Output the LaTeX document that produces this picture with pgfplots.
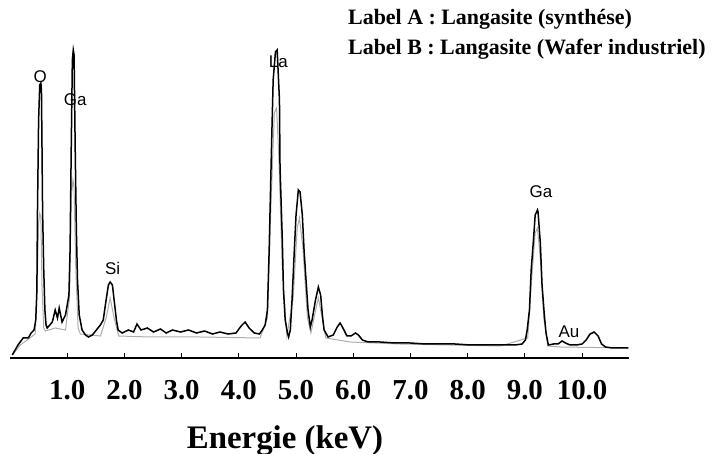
\documentclass[border=0pt]{standalone}
\usepackage{fontspec}
\setmainfont{Liberation Serif}
\newfontfamily\arial{Liberation Sans}
\usepackage{pgfplots}
\pgfplotsset{compat=1.18}
\begin{document}
\begin{tikzpicture}
\useasboundingbox (0,0) rectangle (714bp,454bp);
\begin{axis}[
  at={(10bp,96bp)}, anchor=south west,
  scale only axis, width=619bp, height=358bp,
  xmin=0, xmax=10.82, ymin=0, ymax=358,
  axis x line*=bottom, axis y line=none,
  ytick=\empty,
  xtick={1,2,3,4,5,6,7,8,9,10},
  xticklabels={1.0,2.0,3.0,4.0,5.0,6.0,7.0,8.0,9.0,10.0},
  tick align=inside, major tick length=5bp,
  xtick style={line width=0.8bp, black},
  x axis line style={line width=2.5bp, black},
  xticklabel style={font=\fontsize{29}{29}\selectfont\bfseries, inner sep=0pt, yshift=-22bp},
  clip=false,
]
% Label B (grey)
\addplot[gray!65, line width=1bp] coordinates {
(0.04,3)(0.18,13)(0.35,20)(0.44,24)(0.47,60)(0.50,135)(0.52,145)(0.54,140)(0.56,70)(0.59,30)
(0.62,27)(0.79,30)(0.97,28)(1.04,60)(1.07,160)(1.10,178)(1.12,170)(1.15,90)(1.19,30)(1.23,24)
(1.58,22)(1.68,40)(1.75,60)(1.82,40)(1.90,22)(2.45,21)(3.33,21)(4.37,20)(4.50,40)(4.56,150)
(4.62,245)(4.66,250)(4.70,200)(4.76,90)(4.84,22)(4.95,60)(5.02,130)(5.06,140)(5.12,110)(5.20,40)
(5.26,25)(5.35,50)(5.39,60)(5.44,45)(5.52,20)(5.95,16)(6.82,14)(7.70,13)(8.57,12)(9.05,20)
(9.12,80)(9.18,125)(9.22,130)(9.27,100)(9.33,40)(9.40,12)(9.62,11)(10.81,10)
};
% Label A (black)
\addplot[black, line width=1.5bp] coordinates {
(0.04,3)(0.09,8)(0.14,13)(0.23,20)(0.32,20)(0.37,25)(0.42,28)
(0.45,38)(0.47,68)(0.48,145)(0.50,238)(0.52,273)(0.54,275)(0.55,268)(0.57,145)(0.59,88)(0.61,48)(0.63,33)(0.65,30)
(0.74,36)(0.79,48)(0.83,40)(0.86,50)(0.91,36)(0.97,43)(1.00,53)(1.03,63)
(1.05,108)(1.07,208)(1.09,298)(1.106,308)(1.12,303)(1.14,208)(1.16,128)(1.18,78)(1.21,43)(1.26,28)
(1.32,23)(1.37,21)(1.44,23)(1.51,28)(1.58,33)
(1.63,38)(1.68,58)(1.72,73)(1.75,76)(1.79,73)(1.82,58)(1.86,38)(1.89,28)(1.96,25)
(2.07,28)(2.16,26)(2.22,34)(2.29,28)(2.40,30)(2.51,26)(2.63,29)(2.73,25)(2.84,28)(2.98,26)
(3.12,28)(3.26,25)(3.40,27)(3.54,24)(3.67,26)(3.81,24)(3.95,25)(4.04,32)(4.11,36)(4.18,30)
(4.27,25)(4.36,24)(4.41,28)
(4.46,33)(4.50,48)(4.53,108)(4.57,208)(4.60,278)(4.64,306)(4.67,308)(4.71,258)(4.72,191)(4.76,118)
(4.78,68)(4.81,38)(4.85,25)(4.87,21)(4.90,28)
(4.93,58)(4.97,108)(5.00,143)(5.04,168)(5.07,166)(5.11,143)(5.14,108)(5.18,73)(5.21,48)(5.25,31)
(5.28,38)(5.34,58)(5.39,71)(5.43,63)(5.46,43)(5.49,28)(5.56,21)(5.65,23)(5.72,31)(5.77,35)
(5.82,30)(5.89,22)(5.96,22)(6.04,25)(6.09,23)(6.16,18)(6.26,16)(6.47,16)(6.73,15)(7.00,15)
(7.26,14)(7.52,14)(7.78,14)(8.05,13)(8.31,13)(8.57,13)(8.83,13)(8.95,14)
(9.01,18)(9.04,28)(9.08,48)(9.11,88)(9.15,118)(9.18,143)(9.22,148)(9.23,146)(9.27,115)(9.30,73)
(9.34,43)(9.37,25)(9.41,13)(9.50,14)(9.58,14)(9.65,17)(9.71,15)(9.79,13)(9.90,13)(10.00,14)
(10.07,18)(10.14,24)(10.21,26)(10.28,22)(10.34,14)(10.41,11)(10.53,10)(10.67,10)(10.81,10)
};
\begin{scope}[every node/.style={font=\arial\fontsize{17}{17}\selectfont, inner sep=0pt}]
\node at (axis cs:0.53,281) {O};
\node at (axis cs:1.14,258) {Ga};
\node at (axis cs:1.795,90) {Si};
\node at (axis cs:4.69,296) {La};
\node at (axis cs:9.28,166) {Ga};
\node at (axis cs:9.77,26) {Au};
\end{scope}
\end{axis}
\node[anchor=base west, inner sep=0pt, font=\fontsize{22}{22}\selectfont\bfseries] at (348bp,429bp) {Label A : Langasite (synthése)};
\node[anchor=base west, inner sep=0pt, font=\fontsize{22}{22}\selectfont\bfseries] at (348bp,399bp) {Label B : Langasite (Wafer industriel)};
\node[anchor=base, inner sep=0pt, font=\fontsize{33}{33}\selectfont\bfseries] at (285bp,6bp) {Energie (keV)};
\end{tikzpicture}
\end{document}
